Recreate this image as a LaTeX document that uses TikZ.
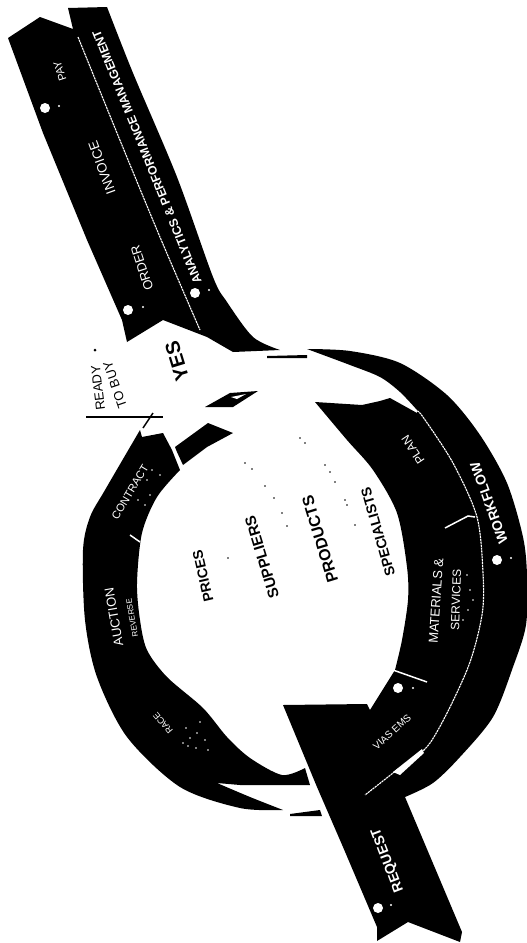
\documentclass[tikz,border=0pt]{standalone}
\usepackage{fontspec}
\setmainfont{Liberation Sans}
\newcommand{\ptsize}[1]{\fontsize{#1}{#1}\selectfont}

\begin{document}
\begin{tikzpicture}[
  x=1pt, y=-1pt,
  ink/.style={fill=black, draw=none},
  paper/.style={fill=white, draw=none},
  seam/.style={draw=white, line width=1.1pt, dash pattern=on 2.2pt off 0.7pt},
  tick/.style={draw=white, line width=1.5pt},
  onblack/.style={text=white, inner sep=0pt, align=center},
  onwhite/.style={text=black, inner sep=0pt, align=center}
]
  \useasboundingbox (0,0) rectangle (527,943);

  % long bands at the top
  \fill[ink] (8,38) -- (40,17) -- (73,29) -- (68,8) -- (107,7)
    -- plot[smooth] coordinates {(107,7) (133,73) (177,177) (213,277) (227,302) (253,337) (280,350)}
    -- (233,352) -- (207,337) -- (163,320) -- (127,342) -- (122,320)
    -- (87,240) -- (43,133) -- cycle;
  \draw[seam] plot[smooth] coordinates {(78,37) (117,133) (157,230) (187,300) (200,330)};

  % right half of the ring with the request band
  \fill[ink] plot[smooth] coordinates {(307,349) (350,351) (400,363) (447,395) (480,435) (507,483) (523,537) (527,575) (526,625) (513,667) (493,717) (460,757) (433,783) (405,797)}
    -- (462,932) -- (460,942) -- (408,922) -- (377,941) -- (377,927)
    -- (343,847) -- (317,787) -- (283,705) -- (367,704) -- (370,710) -- (395,670)
    -- plot[smooth] coordinates {(395,670) (402,640) (408,600) (407,567) (397,513) (373,470) (347,440) (315,402)}
    -- (362,405) -- (380,401) -- (390,398) -- (417,413)
    -- plot[smooth] coordinates {(417,410) (400,392) (380,377) (350,365) (307,349)} -- cycle;
  \draw[seam] plot[smooth] coordinates {(417,411) (423,417) (453,463) (477,517) (483,573) (482,615) (467,670) (430,743) (393,773) (365,795)};
  \fill[paper] (393,772) -- (422,749) -- (424,753) -- (400,775) -- cycle;
  \draw[tick] (445,528) -- (468,516) -- (475,517);
  \draw[tick] (393,670) -- (427,682);

  % left half of the ring
  \fill[ink] plot[smooth] coordinates {(140,430) (105,490) (90,517) (83,550) (85,620) (97,677) (127,737) (180,787) (240,808) (283,810)}
    -- plot[smooth] coordinates {(283,810) (250,797) (217,783)}
    -- (240,785) -- (310,785) -- (305,768)
    -- plot[smooth] coordinates {(305,768) (282,775) (250,758) (227,737) (203,708) (167,677) (147,650) (140,620) (137,583) (142,533) (157,497) (180,470)}
    -- (172,450) -- (163,433) -- (142,437) -- cycle;
  \draw[tick] (130,535) -- (140,542);

  % loose pieces round the arrow
  \fill[ink] (175,447) -- (208,423) -- (233,433) -- (207,447) -- (183,465) -- (177,452) -- cycle;
  \fill[ink] (205,407) -- (230,393) -- (258,391) -- (233,407) -- cycle;
  \fill[paper] (231,397) -- (246,394) -- (237,399) -- cycle;
  \fill[ink] (290,814) -- (305,812) -- (320,810) -- (322,816) -- (290,816) -- cycle;
  \fill[ink] (267,356) -- (307,355) -- (307,358) -- (267,358) -- cycle;
  \draw[black, line width=2.5pt] (86,417) -- (163,417);
  \draw[black, line width=1.5pt] (143,428) -- (153,413);
  \fill[ink] (95,350) circle (1.5);

  % white spots on the bands
  \foreach \spotx/\spoty [count=\i] in {45/108, 128/310, 195/293, 497/560, 378/908, 398/688}
    \fill[paper] (\spotx,\spoty) circle (5) coordinate (spot\i);
  \foreach \spotx/\spoty in {59/106, 143/307, 209/290, 511/558, 391/905, 413/688}
    \fill[paper] (\spotx,\spoty) circle (1.2);

  % specks in the middle and on the ring
  \foreach \speckx/\specky in {300/438, 305/443, 325/465, 330/472, 335/482, 345/500, 347/505, 355/525,
      245/463, 252/469, 265/486, 274/498, 282/513, 287/526, 228/558}
    \fill[ink] (\speckx,\specky) circle (0.8);
  \foreach \speckx/\specky in {186/728, 190/738, 197/733, 205/740, 188/746, 196/748, 208/750, 200/722, 183/743,
      467/575, 470/590, 473/600, 468/610, 463/620,
      152/470, 160/475, 147/480, 150/495, 138/500, 145/505}
    \fill[paper] (\speckx,\specky) circle (0.9);

  % band labels
  \node[onblack, rotate=108, font=\ptsize{11}]   (pay)      at (60,71)   {PAY};
  \node[onblack, rotate=110, font=\ptsize{13.5}] (invoice)  at (102,168) {INVOICE};
  \node[onblack, rotate=108, font=\ptsize{13}]   (order)    at (142,268) {ORDER};
  \node[onblack, rotate=112, font=\ptsize{12.2}\bfseries] (analytics) at (147,157) {ANALYTICS \& PERFORMANCE MANAGEMENT};
  \node[onblack, rotate=110, font=\ptsize{14}\bfseries] (workflow) at (489,503) {WORKFLOW};
  \node[onblack, rotate=111, font=\ptsize{14}\bfseries] (request)  at (388,860) {REQUEST};

  % ring labels
  \node[onblack, rotate=59,  font=\ptsize{11}]   (contract) at (130,492) {CONTRACT};
  \node[onblack, rotate=100, font=\ptsize{13}]   (auction)  at (114,617) {AUCTION};
  \node[onblack, rotate=100, font=\ptsize{8}]    (reverse)  at (132,618) {REVERSE};
  \node[onblack, rotate=130, font=\ptsize{9}]    (race)     at (163,723) {RACE};
  \node[onblack, rotate=124, font=\ptsize{12}]   (plan)     at (413,450) {PLAN};
  \node[onblack, rotate=86,  font=\ptsize{13}]   (materials) at (436,601) {MATERIALS \&};
  \node[onblack, rotate=88,  font=\ptsize{12}]   (services) at (456,600) {SERVICES};
  \node[onblack, rotate=42,  font=\ptsize{10}]   (vias)     at (392,732) {VIAS EMS};

  % labels on white
  \node[onwhite, rotate=107, font=\ptsize{20}\bfseries] (yes) at (177,361) {YES};
  \node[onwhite, rotate=97,  font=\ptsize{13}] (ready) at (98,388)  {READY};
  \node[onwhite, rotate=109, font=\ptsize{13}] (tobuy) at (115,385) {TO BUY};
  \node[onwhite, rotate=103, font=\ptsize{14}\bfseries] (prices) at (203,576) {PRICES};
  \node[onwhite, rotate=107, font=\ptsize{15}\bfseries] (suppliers) at (262,557) {SUPPLIERS};
  \node[onwhite, rotate=107, font=\ptsize{16}\bfseries] (products) at (320,539) {PRODUCTS};
  \node[onwhite, rotate=106, font=\ptsize{14}\bfseries] (specialists) at (378,532) {SPECIALISTS};
\end{tikzpicture}
\end{document}
